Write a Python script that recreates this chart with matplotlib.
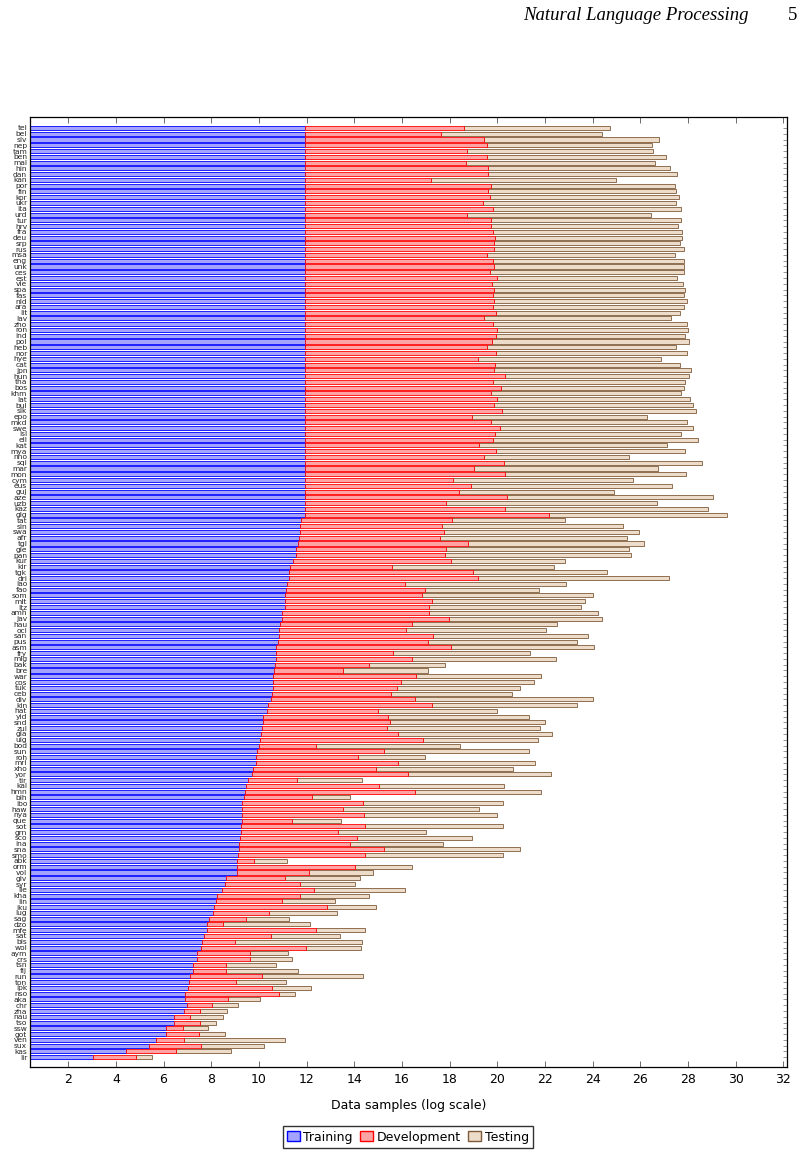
import matplotlib
matplotlib.use("Agg")
import matplotlib.pyplot as plt
from matplotlib.patches import Patch

languages = [
    "tel", "bel", "slv", "nep", "tam", "ben", "mal", "hin", "dan", "kan", "por", "fin", "kor",
    "ukr", "ita", "urd", "tur", "hrv", "fra", "deu", "srp", "rus", "msa", "eng", "unk", "ces", "est",
    "vie", "spa", "fas", "nld", "ara", "lit", "lav", "zho", "ron", "ind", "pol", "heb", "nor", "hye",
    "cat", "jpn", "hun", "tha", "bos", "khm", "lat", "bul", "slk", "epo", "mkd", "swe", "isl",
    "ell", "kat", "mya", "nno", "sqi", "mar", "mon", "cym", "eus", "guj", "aze", "uzb", "kaz", "glg",
    "tat", "sin", "swa", "afr", "tgl", "gle", "pan", "kur", "kir", "tgk", "dri", "lao", "fao", "som",
    "mlt", "ltz", "amh", "jav", "hau", "oci", "san", "pus", "asm", "fry", "mlg", "bak", "bre", "war",
    "cos", "tuk", "ceb", "div", "kin", "hat", "yid", "snd", "zul", "gla", "uig", "bod", "sun", "roh",
    "mri", "xho", "yor", "tir", "kal", "hmn", "bih", "ibo", "haw", "nya", "que", "sot", "grn", "sco",
    "ina", "sna", "smo", "abk", "orm", "vol", "glv", "syr", "ile", "kha", "lin", "iku", "lug", "sag",
    "dzo", "mfe", "sat", "bis", "wol", "aym", "crs", "tsn", "fij", "run", "ton", "ipk", "nso",
    "aka", "chr", "zha", "nau", "tso", "ssw", "got", "ven", "sux", "kas", "lir",
]

# cumulative end of the training segment (log scale)
training_end = [
    11.94, 11.94, 11.94, 11.94, 11.94, 11.94, 11.94, 11.94, 11.94, 11.94, 11.94, 11.94, 11.94,
    11.94, 11.94, 11.94, 11.94, 11.94, 11.94, 11.94, 11.94, 11.94, 11.94, 11.94, 11.94, 11.94, 11.94,
    11.94, 11.94, 11.94, 11.94, 11.94, 11.94, 11.94, 11.94, 11.94, 11.94, 11.94, 11.94, 11.94, 11.94,
    11.94, 11.94, 11.94, 11.94, 11.94, 11.94, 11.94, 11.94, 11.94, 11.94, 11.94, 11.94, 11.94,
    11.94, 11.94, 11.94, 11.94, 11.94, 11.94, 11.94, 11.94, 11.94, 11.94, 11.94, 11.94, 11.94, 11.94,
    11.76, 11.74, 11.72, 11.68, 11.66, 11.57, 11.57, 11.42, 11.31, 11.27, 11.27, 11.16, 11.12, 11.08,
    11.08, 11.08, 10.97, 10.95, 10.88, 10.84, 10.84, 10.82, 10.73, 10.73, 10.71, 10.69, 10.65, 10.58,
    10.58, 10.58, 10.54, 10.52, 10.37, 10.32, 10.19, 10.19, 10.11, 10.09, 10.06, 10.00, 9.91, 9.87,
    9.87, 9.76, 9.72, 9.53, 9.46, 9.42, 9.38, 9.31, 9.31, 9.31, 9.31, 9.25, 9.23, 9.20,
    9.18, 9.18, 9.14, 9.10, 9.08, 9.08, 8.60, 8.56, 8.47, 8.26, 8.22, 8.13, 8.09, 7.89,
    7.83, 7.81, 7.70, 7.63, 7.59, 7.42, 7.42, 7.23, 7.25, 7.12, 7.08, 7.03, 6.90,
    6.90, 6.97, 6.88, 6.43, 6.43, 6.09, 6.09, 5.70, 5.38, 4.43, 3.03,
]

# cumulative end of the development segment
development_end = [
    18.62, 17.63, 19.44, 19.55, 18.73, 19.55, 18.67, 19.61, 19.63, 17.23, 19.74, 19.63, 19.68,
    19.42, 19.81, 18.73, 19.74, 19.74, 19.81, 19.91, 19.85, 19.85, 19.55, 19.81, 19.85, 19.70, 19.98,
    19.78, 19.85, 19.83, 19.87, 19.81, 19.96, 19.46, 19.83, 19.98, 19.96, 19.76, 19.57, 19.96, 19.18,
    19.91, 19.87, 20.34, 19.83, 20.15, 19.74, 20.00, 19.87, 20.19, 18.95, 19.74, 20.13, 19.89,
    19.83, 19.23, 19.94, 19.46, 20.30, 19.01, 20.34, 18.13, 18.88, 18.41, 20.39, 17.85, 20.32, 22.15,
    18.11, 17.70, 17.76, 17.59, 18.77, 17.85, 17.81, 18.04, 15.57, 18.97, 19.18, 16.13, 16.97, 16.86,
    17.27, 17.14, 17.12, 17.96, 16.41, 16.15, 17.31, 17.10, 18.04, 15.61, 16.43, 14.60, 13.53, 16.60,
    15.94, 15.78, 15.55, 16.54, 17.27, 15.01, 15.42, 15.48, 15.38, 15.85, 16.90, 12.41, 15.23, 14.15,
    15.83, 14.92, 16.24, 11.61, 15.03, 16.54, 12.22, 14.37, 13.51, 14.39, 11.40, 14.43, 13.31, 14.11,
    13.83, 15.23, 14.43, 9.78, 14.02, 12.09, 11.08, 11.74, 12.32, 11.72, 10.97, 12.84, 10.41, 9.46,
    8.49, 12.39, 10.52, 9.01, 11.96, 9.63, 9.61, 8.62, 8.62, 10.13, 9.03, 10.56, 10.86,
    8.69, 8.04, 7.53, 7.10, 7.53, 6.80, 7.48, 6.84, 7.59, 6.52, 4.84,
]

# cumulative end of the testing segment
testing_end = [
    24.73, 24.37, 26.77, 26.49, 26.54, 27.08, 26.62, 27.25, 27.55, 24.97, 27.46, 27.51, 27.61,
    27.48, 27.72, 26.43, 27.72, 27.59, 27.76, 27.76, 27.66, 27.81, 27.46, 27.85, 27.85, 27.81, 27.55,
    27.78, 27.89, 27.85, 27.94, 27.85, 27.68, 27.27, 27.96, 27.98, 27.87, 28.02, 27.51, 27.96, 26.88,
    27.66, 28.11, 28.06, 27.87, 27.81, 27.72, 28.09, 28.22, 28.32, 26.26, 27.96, 28.22, 27.72,
    28.41, 27.10, 27.89, 25.53, 28.58, 26.75, 27.91, 25.70, 27.33, 24.88, 29.05, 26.71, 28.84, 29.63,
    22.82, 25.27, 25.94, 25.44, 26.15, 25.53, 25.59, 22.82, 22.39, 24.58, 27.20, 22.88, 21.76, 24.00,
    23.66, 23.51, 24.24, 24.37, 22.52, 22.06, 23.81, 23.35, 24.06, 21.38, 22.45, 17.81, 17.10, 21.83,
    21.55, 20.97, 20.60, 24.02, 23.33, 20.00, 21.33, 22.02, 21.78, 22.28, 21.70, 18.45, 21.31, 16.97,
    21.59, 20.67, 22.26, 14.32, 20.30, 21.83, 13.83, 20.22, 19.25, 20.00, 13.46, 20.24, 16.99, 18.95,
    17.74, 20.95, 20.22, 11.18, 16.43, 14.77, 14.26, 14.04, 16.11, 14.60, 13.18, 14.90, 13.29, 11.27,
    12.15, 14.45, 13.40, 14.32, 14.28, 11.23, 11.40, 10.71, 11.62, 14.37, 11.12, 12.19, 11.53,
    10.06, 9.12, 8.65, 8.49, 8.22, 7.87, 8.56, 11.08, 10.22, 8.82, 5.51,
]

x_ticks = [2, 4, 6, 8, 10, 12, 14, 16, 18, 20, 22, 24, 26, 28, 30, 32]

fig = plt.figure(figsize=(8.03, 11.57), dpi=100)
ax = fig.add_axes([30 / 803, 90 / 1157, 757 / 803, 950 / 1157])

pos = list(range(len(languages)))
dev_w = [d - t for d, t in zip(development_end, training_end)]
test_w = [e - d for e, d in zip(testing_end, development_end)]

h = 0.7
ax.barh(pos, training_end, left=0, height=h, color="#a4a4ff", edgecolor="#0000ff", linewidth=0.6, zorder=2)
ax.barh(pos, dev_w, left=training_end, height=h, color="#ffa4a4", edgecolor="#ff0000", linewidth=0.6, zorder=2)
ax.barh(pos, test_w, left=development_end, height=h, color="#eedcca", edgecolor="#7f5a3a", linewidth=0.6, zorder=1)

ax.set_xlim(0.4, 32.15)
ax.set_ylim(162.7, -1.9)
ax.set_xticks(x_ticks)
ax.set_xticklabels([str(v) for v in x_ticks], fontsize=9)
ax.set_yticks(pos)
ax.set_yticklabels(languages, fontsize=5.4, color="#222222")
ax.tick_params(axis="x", direction="in", top=True, bottom=True, length=4, width=0.6, color="#555555", pad=4)
ax.tick_params(axis="y", direction="in", left=True, right=True, length=3, width=0.6, color="#888888", pad=2)
for s in ax.spines.values():
    s.set_linewidth(0.9)
ax.set_xlabel("Data samples (log scale)", fontsize=9, labelpad=10)

handles = [
    Patch(facecolor="#a4a4ff", edgecolor="#0000ff", label="Training"),
    Patch(facecolor="#ffa4a4", edgecolor="#ff0000", label="Development"),
    Patch(facecolor="#eedcca", edgecolor="#7f5a3a", label="Testing"),
]
fig.legend(handles=handles, loc="center", bbox_to_anchor=(408 / 803, 1 - 1137 / 1157), ncol=3,
           fontsize=9, frameon=True, fancybox=False, edgecolor="black", handlelength=1.0,
           handleheight=0.8, handletextpad=0.3, columnspacing=0.6, borderpad=0.35)

fig.text(749 / 803, 1 - 16 / 1157, "Natural Language Processing", ha="right", va="center",
         fontsize=13.5, style="italic", family="Liberation Serif")
fig.text(797 / 803, 1 - 16 / 1157, "5", ha="right", va="center", fontsize=13.5, family="Liberation Serif")

fig.savefig("out.png", dpi=100)
